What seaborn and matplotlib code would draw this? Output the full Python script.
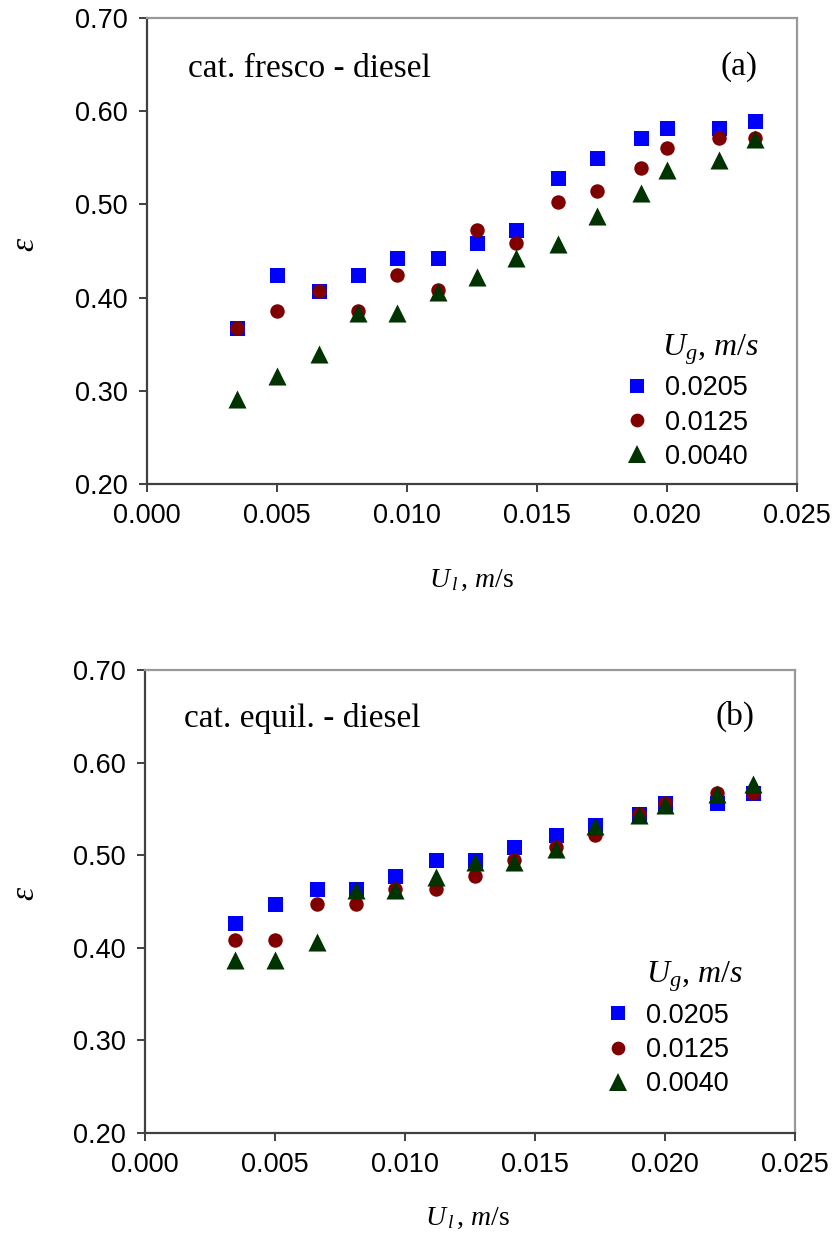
import matplotlib
matplotlib.use("Agg")
import numpy as np
import pandas as pd
import seaborn as sns
import matplotlib.pyplot as plt
from matplotlib.lines import Line2D

# ---- data ----
ul = [0.00345, 0.0050, 0.0066, 0.0081, 0.0096, 0.0112, 0.0127, 0.0142,
      0.0158, 0.0173, 0.0190, 0.0200, 0.0220, 0.0234]
series_labels = ["0.0205", "0.0125", "0.0040"]

eps_a_0205 = [0.367, 0.424, 0.407, 0.424, 0.443, 0.443, 0.459, 0.473, 0.528, 0.550, 0.571, 0.582, 0.582, 0.590]
eps_a_0125 = [0.367, 0.386, 0.407, 0.386, 0.424, 0.408, 0.473, 0.459, 0.503, 0.514, 0.539, 0.560, 0.571, 0.571]
eps_a_0040 = [0.291, 0.316, 0.340, 0.384, 0.384, 0.406, 0.422, 0.442, 0.458, 0.488, 0.512, 0.537, 0.548, 0.570]

eps_b_0205 = [0.427, 0.447, 0.464, 0.464, 0.478, 0.495, 0.495, 0.509, 0.522, 0.533, 0.545, 0.556, 0.556, 0.567]
eps_b_0125 = [0.408, 0.408, 0.447, 0.447, 0.464, 0.464, 0.478, 0.495, 0.509, 0.522, 0.545, 0.556, 0.567, 0.567]
eps_b_0040 = [0.387, 0.387, 0.406, 0.462, 0.462, 0.476, 0.493, 0.493, 0.507, 0.532, 0.543, 0.554, 0.566, 0.577]

x_ticks = [0.000, 0.005, 0.010, 0.015, 0.020, 0.025]
y_ticks = [0.20, 0.30, 0.40, 0.50, 0.60, 0.70]

panel_texts = ["cat. fresco - diesel", "cat. equil. - diesel"]
panel_tags = ["(a)", "(b)"]

# ---- style ----
sns.set_style("ticks")
plt.rcParams["font.family"] = ["Liberation Sans", "DejaVu Sans"]
plt.rcParams["text.color"] = "black"
plt.rcParams["axes.labelcolor"] = "black"
plt.rcParams["mathtext.fontset"] = "custom"
plt.rcParams["mathtext.rm"] = "Liberation Serif"
plt.rcParams["mathtext.it"] = "Liberation Serif:italic"
plt.rcParams["mathtext.bf"] = "Liberation Serif:bold"

colors = ["#0000FF", "#800000", "#003300"]
markers = ["s", "o", "^"]
msizes = [10.8, 10.4, 13.0]

fig = plt.figure(figsize=(8.38, 12.47), dpi=100)
ax_a = fig.add_axes([147 / 838, 1 - 484 / 1247, 650 / 838, 466 / 1247])
ax_b = fig.add_axes([145 / 838, 1 - 1133 / 1247, 650 / 838, 463 / 1247])

panels = [
    (ax_a, [eps_a_0205, eps_a_0125, eps_a_0040]),
    (ax_b, [eps_b_0205, eps_b_0125, eps_b_0040]),
]

serif = ["Liberation Serif", "DejaVu Serif"]

# layout params per panel (axes coordinates)
xlabel_pos = [(0.4995, -0.221), (0.496, -0.199)]
ylabel_pos = [(-0.188, 0.515), (-0.185, 0.518)]
text_pos = [(0.0635, 0.874), (0.060, 0.877)]
tag_pos = [(0.939, 0.878), (0.938, 0.881)]
title_pos = [(0.792, 0.2768), (0.771, 0.326)]
legend_pos = [(0.733, 0.233), (0.707, 0.281)]

for i, (ax, ys) in enumerate(panels):
    for j, y in enumerate(ys):
        df = pd.DataFrame({"ul": ul, "eps": y})
        sns.scatterplot(data=df, x="ul", y="eps", ax=ax, color=colors[j],
                        marker=markers[j], s=msizes[j] ** 2, linewidth=0,
                        legend=False, zorder=3 + j)
    ax.set_xlim(0, 0.025)
    ax.set_ylim(0.20, 0.70)
    ax.set_xticks(x_ticks)
    ax.set_xticklabels([f"{v:.3f}" for v in x_ticks])
    ax.set_yticks(y_ticks)
    ax.set_yticklabels([f"{v:.2f}" for v in y_ticks])
    ax.tick_params(axis="both", direction="out", length=5.5, width=1.4,
                   colors="#404040", labelcolor="black", labelsize=19.5, pad=8.5)
    for side in ["left", "bottom"]:
        ax.spines[side].set_color("#404040")
        ax.spines[side].set_linewidth(1.6)
    for side in ["top", "right"]:
        ax.spines[side].set_visible(True)
        ax.spines[side].set_color("#999999")
        ax.spines[side].set_linewidth(1.6)
    ax.set_xlabel(r"$U_{\,l}\,$, $m$/s", fontsize=20, family=serif, va="baseline")
    ax.xaxis.set_label_coords(*xlabel_pos[i])
    ax.set_ylabel("ε", fontsize=24, family=serif, style="italic", va="center")
    ax.yaxis.set_label_coords(*ylabel_pos[i])
    ax.text(text_pos[i][0], text_pos[i][1], panel_texts[i], transform=ax.transAxes,
            fontsize=24, family=serif, va="baseline", ha="left")
    ax.text(tag_pos[i][0], tag_pos[i][1], panel_tags[i], transform=ax.transAxes,
            fontsize=24, family=serif, va="baseline", ha="right")

    # legend
    ax.text(title_pos[i][0], title_pos[i][1], r"$U_g$, $m/s$", transform=ax.transAxes,
            fontsize=23, family=serif, va="baseline", ha="left")
    handles = [Line2D([], [], linestyle="none", marker=markers[j], color=colors[j],
                      markersize=msizes[j] * 0.95, markeredgewidth=0)
               for j in range(3)]
    ax.legend(handles, series_labels, loc="upper left", bbox_to_anchor=legend_pos[i],
              frameon=False, fontsize=19.5, handlelength=1.0, handletextpad=0.53,
              labelspacing=0.30, borderaxespad=0, borderpad=0)

fig.savefig("out.png", dpi=100, facecolor="white")
